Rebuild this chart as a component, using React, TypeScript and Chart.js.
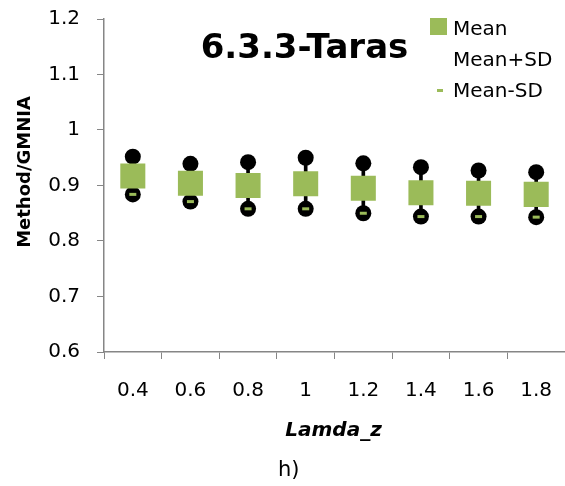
import React, { useEffect, useRef } from "react";
import { Chart, registerables } from "chart.js";

Chart.register(...registerables);

const categories = ["0.4", "0.6", "0.8", "1", "1.2", "1.4", "1.6", "1.8"];
const meanValues = [0.917, 0.904, 0.900, 0.903, 0.895, 0.887, 0.886, 0.884];
const meanPlusSD = [0.952, 0.939, 0.942, 0.950, 0.940, 0.933, 0.927, 0.924];
const meanMinusSD = [0.884, 0.871, 0.858, 0.858, 0.850, 0.844, 0.844, 0.843];
const yTicks = [0.6, 0.7, 0.8, 0.9, 1.0, 1.1, 1.2];
const yTickLabels = ["0.6", "0.7", "0.8", "0.9", "1", "1.1", "1.2"];
const chartTitle = "6.3.3-Taras";
const yAxisTitle = "Method/GMNIA";
const xAxisTitle = "Lamda_z";
const caption = "h)";
const legendLabels = ["Mean", "Mean+SD", "Mean-SD"];

const GREEN = "#9BBB59";
const AXIS = "#868686";
const FONT = "'DejaVu Sans', sans-serif";

const textPlugin = {
  id: "texts",
  afterDraw(chart: any) {
    const ctx = chart.ctx as CanvasRenderingContext2D;
    ctx.save();
    ctx.fillStyle = "#000";
    // title
    ctx.font = `bold 34px ${FONT}`;
    ctx.textAlign = "center";
    ctx.textBaseline = "alphabetic";
    ctx.fillText(chartTitle, 304.5, 58);
    // legend
    ctx.fillStyle = GREEN;
    ctx.fillRect(430, 18, 17, 17);
    ctx.fillRect(437, 89, 6, 3);
    ctx.fillStyle = "#000";
    ctx.font = `20px ${FONT}`;
    ctx.textAlign = "left";
    ctx.fillText(legendLabels[0], 453, 35);
    ctx.fillText(legendLabels[1], 453, 66);
    ctx.fillText(legendLabels[2], 453, 97);
    // y title
    ctx.save();
    ctx.translate(25, 172);
    ctx.rotate(-Math.PI / 2);
    ctx.font = `bold 18px ${FONT}`;
    ctx.textAlign = "center";
    ctx.textBaseline = "middle";
    ctx.fillText(yAxisTitle, 0, 0);
    ctx.restore();
    // x title
    ctx.font = `italic bold 20px ${FONT}`;
    ctx.textAlign = "center";
    ctx.textBaseline = "alphabetic";
    ctx.fillText(xAxisTitle, 333.5, 436);
    // caption
    ctx.font = `21px ${FONT}`;
    ctx.textAlign = "left";
    ctx.fillText(caption, 278, 476);
    ctx.restore();
  },
};

export default function App() {
  const ref = useRef<HTMLCanvasElement>(null);
  useEffect(() => {
    document.body.style.margin = "0";
    const ranges = meanPlusSD.map((h, i) => [meanMinusSD[i], h]);
    const chart = new Chart(ref.current as HTMLCanvasElement, {
      type: "bar",
      data: {
        labels: categories,
        datasets: [
          {
            type: "line",
            label: legendLabels[2] + " dash",
            data: meanMinusSD,
            showLine: false,
            pointStyle: "line",
            pointRadius: 3.5,
            pointBorderWidth: 3,
            pointBorderColor: GREEN,
            pointBackgroundColor: GREEN,
            order: 0,
          } as any,
          {
            type: "line",
            label: legendLabels[0],
            data: meanValues,
            showLine: false,
            pointStyle: "rect",
            pointRadius: 17.7,
            pointBorderWidth: 0,
            pointBackgroundColor: GREEN,
            pointBorderColor: GREEN,
            order: 1,
          } as any,
          {
            type: "line",
            label: legendLabels[1],
            data: meanPlusSD,
            showLine: false,
            pointStyle: "circle",
            pointRadius: 8,
            pointBorderWidth: 0,
            pointBackgroundColor: "#000",
            pointBorderColor: "#000",
            order: 2,
          } as any,
          {
            type: "line",
            label: legendLabels[2],
            data: meanMinusSD,
            showLine: false,
            pointStyle: "circle",
            pointRadius: 8,
            pointBorderWidth: 0,
            pointBackgroundColor: "#000",
            pointBorderColor: "#000",
            order: 2,
          } as any,
          {
            type: "bar",
            label: "range",
            data: ranges as any,
            backgroundColor: "#000",
            barThickness: 3,
            order: 3,
          } as any,
        ],
      },
      options: {
        responsive: false,
        animation: false,
        layout: { autoPadding: false, padding: { top: 19, right: 0, left: 0, bottom: 0 } },
        plugins: { legend: { display: false }, tooltip: { enabled: false } },
        scales: {
          x: {
            type: "category",
            offset: true,
            grid: {
              display: true,
              offset: true,
              drawOnChartArea: false,
              tickLength: 7,
              color: AXIS,
              lineWidth: 1,
            },
            border: { display: true, color: AXIS, width: 1.5 },
            ticks: { color: "#000", font: { family: FONT, size: 20 }, padding: 20, maxRotation: 0 },
            afterFit: (s: any) => {
              s.height = 134;
              s.paddingLeft = 0;
              s.paddingRight = 0;
            },
          },
          y: {
            min: 0.6,
            max: 1.2,
            afterBuildTicks: (s: any) => { s.ticks = yTicks.map((v) => ({ value: v })); },
            grid: {
              display: true,
              drawOnChartArea: false,
              tickLength: 7,
              color: AXIS,
              lineWidth: 1,
            },
            border: { display: true, color: AXIS, width: 1.5 },
            ticks: {
              color: "#000",
              font: { family: FONT, size: 20 },
              padding: 17,
              callback: (_v: any, i: number) => yTickLabels[i],
            },
            afterFit: (s: any) => {
              s.width = 104;
              s.paddingTop = 0;
              s.paddingBottom = 0;
            },
          },
        },
      },
      plugins: [textPlugin],
    } as any);
    return () => chart.destroy();
  }, []);
  return <canvas ref={ref} width={565} height={486} style={{ display: "block" }} />;
}
